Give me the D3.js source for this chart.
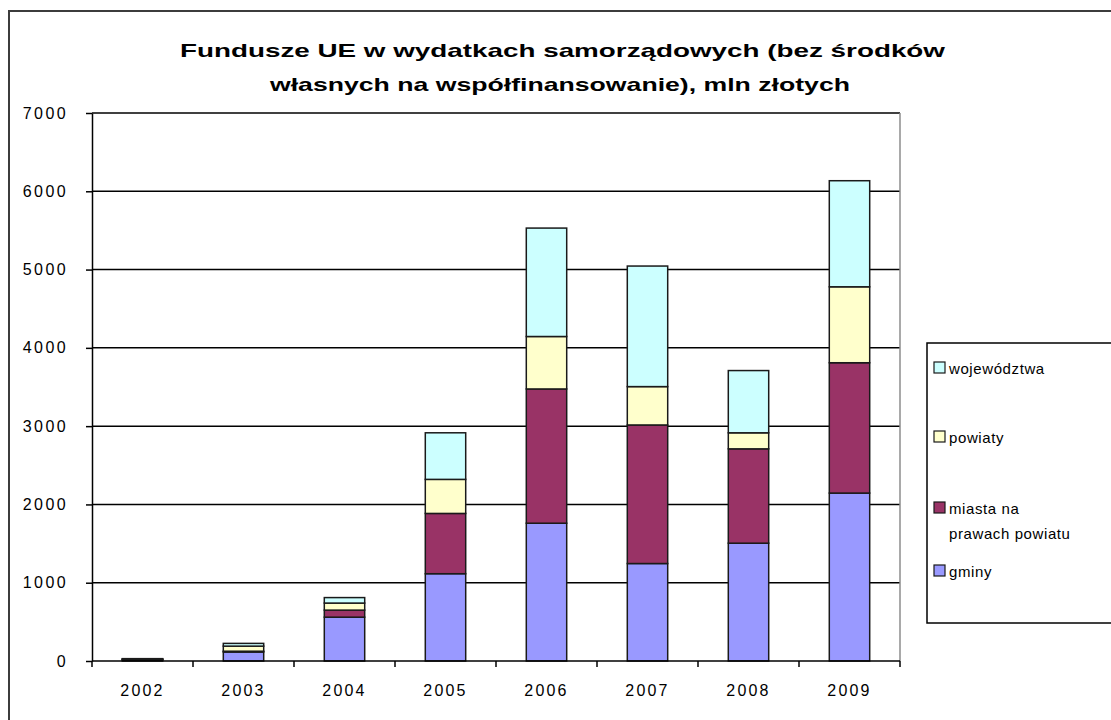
<!DOCTYPE html>
<html>
<head>
<meta charset="utf-8">
<script src="https://cdn.jsdelivr.net/npm/d3@7"></script>
<style>
  body { margin: 0; background: #fff; }
  text { font-family: "Liberation Sans", Arial, sans-serif; fill: #000; }
</style>
</head>
<body>
<div id="chart"></div>
<script>
// data (mln zł)
var years = ["2002", "2003", "2004", "2005", "2006", "2007", "2008", "2009"];
var gminy = [15, 115, 560, 1115, 1760, 1245, 1505, 2145];
var miasta = [5, 10, 90, 770, 1715, 1770, 1205, 1665];
var powiaty = [5, 65, 90, 435, 670, 490, 205, 970];
var wojewodztwa = [5, 35, 70, 595, 1385, 1540, 795, 1355];

var seriesKeys = ["gminy", "miasta", "powiaty", "wojewodztwa"];
var seriesNames = {
  gminy: ["gminy"],
  miasta: ["miasta na", "prawach powiatu"],
  powiaty: ["powiaty"],
  wojewodztwa: ["województwa"]
};
var colors = {
  gminy: "#9999ff",
  miasta: "#993366",
  powiaty: "#ffffcc",
  wojewodztwa: "#ccffff"
};
var yTicks = [0, 1000, 2000, 3000, 4000, 5000, 6000, 7000];

var svgWidth = 1111;
var svgHeight = 720;

var svg = d3.select("#chart")
  .append("svg")
  .attr("width", svgWidth)
  .attr("height", svgHeight);

// outer chart frame (runs off the right and bottom edge)
svg.append("rect")
  .attr("x", 9)
  .attr("y", 11)
  .attr("width", 1200)
  .attr("height", 800)
  .attr("fill", "none")
  .attr("stroke", "#3c3c3c")
  .attr("stroke-width", 2);

// table built from the arrays
var table = years.map(function (y, i) {
  return {
    year: y,
    gminy: gminy[i],
    miasta: miasta[i],
    powiaty: powiaty[i],
    wojewodztwa: wojewodztwa[i]
  };
});

var plot = { left: 92, right: 900, top: 113, bottom: 661 };

var xScale = d3.scaleBand()
  .domain(years)
  .range([plot.left, plot.right])
  .paddingInner(0.6)
  .paddingOuter(0.3);

var yScale = d3.scaleLinear()
  .domain([0, 7000])
  .range([plot.bottom, plot.top]);

// gridlines
svg.append("g")
  .selectAll("line")
  .data(yTicks.slice(1))
  .enter()
  .append("line")
  .attr("x1", plot.left)
  .attr("x2", plot.right)
  .attr("y1", d => yScale(d))
  .attr("y2", d => yScale(d))
  .attr("stroke", "#000")
  .attr("stroke-width", 1.5);

// right edge of the plot area
svg.append("line")
  .attr("x1", plot.right)
  .attr("x2", plot.right)
  .attr("y1", plot.top)
  .attr("y2", plot.bottom)
  .attr("stroke", "#8c8c8c")
  .attr("stroke-width", 1.5);

// stacked bars
var stacked = d3.stack().keys(seriesKeys)(table);

svg.append("g")
  .selectAll("g")
  .data(stacked)
  .enter()
  .append("g")
  .attr("fill", d => colors[d.key])
  .selectAll("rect")
  .data(d => d)
  .enter()
  .append("rect")
  .attr("x", d => xScale(d.data.year))
  .attr("width", xScale.bandwidth())
  .attr("y", d => yScale(d[1]))
  .attr("height", d => yScale(d[0]) - yScale(d[1]))
  .attr("stroke", "#1a1a1a")
  .attr("stroke-width", 1.5);

// y axis
var leftAxis = d3.axisLeft(yScale)
  .tickValues(yTicks)
  .tickFormat(d3.format("d"))
  .tickSize(6)
  .tickPadding(18)
  .tickSizeOuter(0);

var yAxisG = svg.append("g")
  .attr("transform", `translate(${plot.left}, 0)`)
  .call(leftAxis);
yAxisG.select(".domain").attr("stroke", "#000").attr("stroke-width", 1.5);
yAxisG.selectAll(".tick line").attr("stroke", "#000").attr("stroke-width", 1.5);
yAxisG.selectAll(".tick text")
  .attr("font-size", "16px")
  .attr("letter-spacing", "2.4px")
  .attr("font-family", "Liberation Sans, Arial, sans-serif");

// x axis
svg.append("line")
  .attr("x1", plot.left)
  .attr("x2", plot.right)
  .attr("y1", plot.bottom)
  .attr("y2", plot.bottom)
  .attr("stroke", "#000")
  .attr("stroke-width", 1.5);

var step = xScale.step();
var tickXs = [plot.left].concat(years.map(d => xScale(d) + xScale.bandwidth() / 2 + step / 2));
svg.append("g")
  .selectAll("line")
  .data(tickXs)
  .enter()
  .append("line")
  .attr("x1", d => d)
  .attr("x2", d => d)
  .attr("y1", plot.bottom)
  .attr("y2", plot.bottom + 6)
  .attr("stroke", "#000")
  .attr("stroke-width", 1.5);

svg.append("g")
  .selectAll("text")
  .data(years)
  .enter()
  .append("text")
  .attr("x", d => xScale(d) + xScale.bandwidth() / 2)
  .attr("y", 696)
  .attr("text-anchor", "middle")
  .attr("font-size", "16px")
  .attr("letter-spacing", "2.2px")
  .text(d => d);

// title
var titleLines = [
  "Fundusze UE w wydatkach samorządowych (bez środków",
  "własnych na współfinansowanie), mln złotych"
];
var titleSpans = [[180, 765], [270, 580]];
svg.append("g")
  .selectAll("text")
  .data(titleLines)
  .enter()
  .append("text")
  .attr("x", (d, i) => titleSpans[i][0])
  .attr("y", (d, i) => 57 + i * 34)
  .attr("font-size", "19px")
  .attr("font-weight", "bold")
  .attr("textLength", (d, i) => titleSpans[i][1])
  .attr("lengthAdjust", "spacingAndGlyphs")
  .text(d => d);

// legend
var legend = svg.append("g");
legend.append("rect")
  .attr("x", 927)
  .attr("y", 343)
  .attr("width", 300)
  .attr("height", 280)
  .attr("fill", "#fff")
  .attr("stroke", "#000")
  .attr("stroke-width", 1.5);

var legendOrder = ["wojewodztwa", "powiaty", "miasta", "gminy"];
var legendY = { wojewodztwa: 368, powiaty: 437, miasta: 508, gminy: 571 };

var items = legend.selectAll(".item")
  .data(legendOrder)
  .enter()
  .append("g")
  .attr("class", "item");

items.append("rect")
  .attr("x", 934)
  .attr("y", d => legendY[d] - 6)
  .attr("width", 11)
  .attr("height", 11)
  .attr("fill", d => colors[d])
  .attr("stroke", "#1a1a1a")
  .attr("stroke-width", 1.2);

items.each(function (d) {
  var g = d3.select(this);
  seriesNames[d].forEach(function (line, j) {
    g.append("text")
      .attr("x", 949)
      .attr("y", legendY[d] + 6 + j * 25)
      .attr("font-size", "15px")
      .attr("letter-spacing", "0.6px")
      .text(line);
  });
});
</script>
</body>
</html>
